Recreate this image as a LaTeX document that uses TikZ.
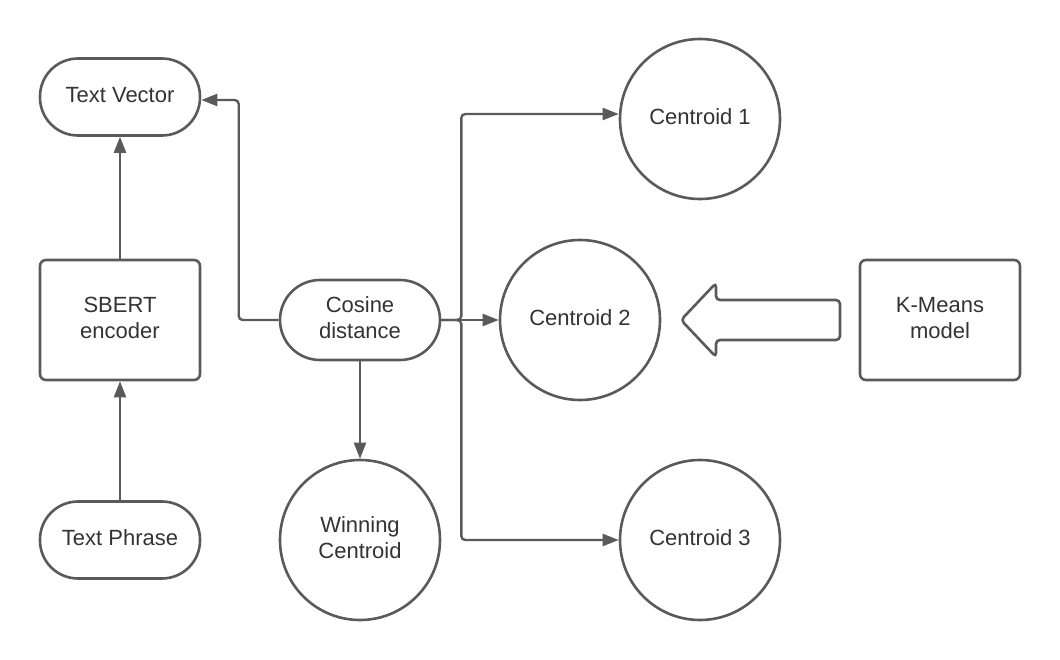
\documentclass[tikz,border=0pt]{standalone}
\usepackage{fontspec}
\setmainfont{Liberation Sans}
\usetikzlibrary{arrows.meta}
\definecolor{ln}{HTML}{5A5A5A}
\definecolor{tx}{HTML}{333333}
\begin{document}
\begin{tikzpicture}[x=1pt,y=-1pt,
 base/.style={draw=ln, line width=2.6pt, text=tx, font=\fontsize{22}{26}\selectfont, align=center, inner sep=0pt, text depth=5pt},
 pill/.style={base, rectangle, rounded corners=38pt, minimum width=160pt, minimum height=77pt},
 pillb/.style={base, rectangle, rounded corners=40pt, minimum width=160pt, minimum height=80pt},
 box/.style={base, rectangle, rounded corners=6pt, minimum width=160pt, minimum height=120pt},
 disc/.style={base, circle, minimum size=160pt},
 conn/.style={draw=ln, line width=2.4pt, -{Triangle[length=16pt,width=12pt]}, rounded corners=4pt}]
\useasboundingbox (0,0) rectangle (1060,660);
\node[pill] (tv) at (120,97) {Text Vector};
\node[box] (sb) at (120,320) {SBERT\\encoder};
\node[pill] (tp) at (120,540) {Text Phrase};
\node[pillb] (cos) at (360,320) {Cosine\\distance};
\node[disc] (wc) at (360,540) {Winning\\Centroid};
\node[disc] (c1) at (700,119) {Centroid 1};
\node[disc] (c2) at (580,320) {Centroid 2};
\node[disc] (c3) at (700,540) {Centroid 3};
\node[box] (km) at (940,320) {K-Means\\model};
\draw[conn] (tp) -- (sb);
\draw[conn] (sb) -- (tv);
\draw[conn] (cos.west) -- ++(-40,0) |- ([yshift=-3pt]tv.east);
\draw[conn] (cos) -- (wc);
\draw[conn] (cos.east) -- (c2);
\draw[conn] (cos.east) -- ++(20,0) |- ([yshift=5pt]c1.west);
\draw[conn] (cos.east) -- ++(20,0) |- (c3.west);
\draw[draw=ln, line width=2.6pt, rounded corners=4pt] (681,320) -- (716,283) -- (716,300) -- (840,300) -- (840,340) -- (716,340) -- (716,357) -- cycle;
\end{tikzpicture}
\end{document}
